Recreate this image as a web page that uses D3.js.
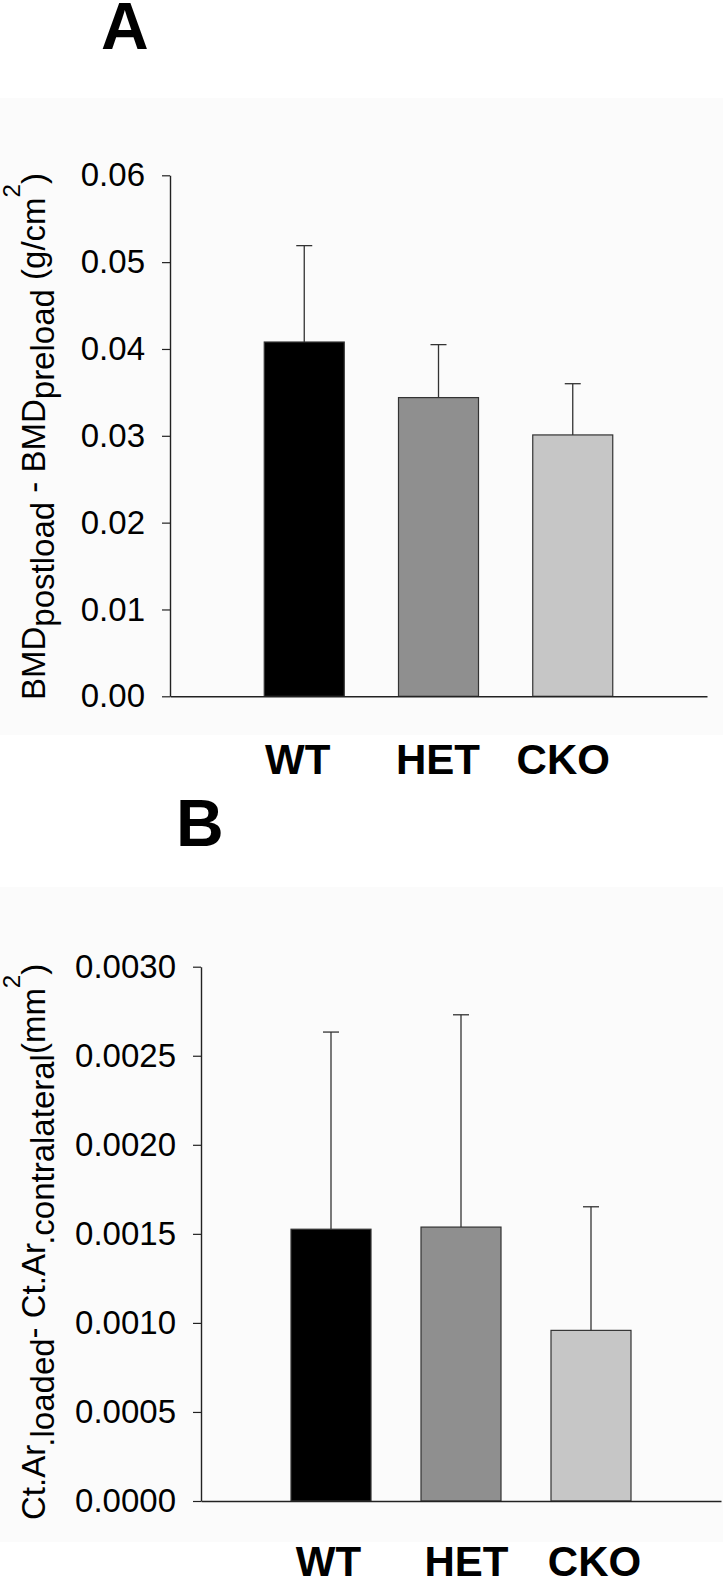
<!DOCTYPE html>
<html>
<head>
<meta charset="utf-8">
<script src="https://cdn.jsdelivr.net/npm/d3@7"></script>
<style>
  html, body { margin: 0; padding: 0; background: #ffffff; }
  svg { display: block; }
  text { font-family: "Liberation Sans", Arial, Helvetica, sans-serif; }
</style>
</head>
<body>
<svg id="chart" width="723" height="1581"></svg>
<script>
// ---------- data ----------
const groups = ["WT", "HET", "CKO"];
const barColors = ["#000000", "#8f8f8f", "#c6c6c6"];

const bmdMeans = [0.0408, 0.0344, 0.0301];
const bmdErrors = [0.0111, 0.0061, 0.0059];
const bmdTicks = [0, 0.01, 0.02, 0.03, 0.04, 0.05, 0.06];

const ctArMeans = [0.001526, 0.001538, 0.000958];
const ctArErrors = [0.001107, 0.001192, 0.000694];
const ctArTicks = [0, 0.0005, 0.0010, 0.0015, 0.0020, 0.0025, 0.0030];

const svg = d3.select("#chart");
const AXIS = "#222222";

function drawPanel(cfg) {
  const g = svg.append("g");
  // panel background
  g.append("rect")
    .attr("x", 0).attr("y", cfg.bgTop)
    .attr("width", 723).attr("height", cfg.bgBottom - cfg.bgTop)
    .attr("fill", "#fbfbfb");

  const x = d3.scaleLinear().domain([0, 4]).range([cfg.left, cfg.right]);
  const y = d3.scaleLinear().domain([0, cfg.ticks[cfg.ticks.length - 1]]).range([cfg.bottom, cfg.top]);
  const barW = 80;

  // bars
  g.selectAll("rect.bar").data(cfg.means).join("rect")
    .attr("class", "bar")
    .attr("x", (d, i) => x(i + 1) - barW / 2)
    .attr("y", d => y(d))
    .attr("width", barW)
    .attr("height", d => y(0) - y(d))
    .attr("fill", (d, i) => barColors[i])
    .attr("stroke", "#333")
    .attr("stroke-width", 1.2);

  // error bars (upper only)
  const eb = g.selectAll("g.err").data(cfg.means).join("g").attr("class", "err");
  eb.append("line")
    .attr("x1", (d, i) => x(i + 1)).attr("x2", (d, i) => x(i + 1))
    .attr("y1", d => y(d)).attr("y2", (d, i) => y(d + cfg.errors[i]))
    .attr("stroke", "#333").attr("stroke-width", 1.3);
  eb.append("line")
    .attr("x1", (d, i) => x(i + 1) - 8).attr("x2", (d, i) => x(i + 1) + 8)
    .attr("y1", (d, i) => y(d + cfg.errors[i])).attr("y2", (d, i) => y(d + cfg.errors[i]))
    .attr("stroke", "#333").attr("stroke-width", 1.3);

  // y axis
  const yAxis = d3.axisLeft(y).tickValues(cfg.ticks).tickFormat(d3.format(cfg.fmt))
    .tickSize(8).tickPadding(17).tickSizeOuter(0);
  const ya = g.append("g").attr("transform", `translate(${cfg.left},0)`).call(yAxis);
  ya.select(".domain").attr("stroke", AXIS).attr("stroke-width", 1.4);
  ya.selectAll(".tick line").attr("stroke", AXIS).attr("stroke-width", 1.2);
  ya.selectAll(".tick text")
    .attr("fill", "#000").attr("font-size", 33)
    .style("font-family", "'Liberation Sans', Arial, sans-serif");

  // x axis baseline and group labels
  const xAxis = d3.axisBottom(x).tickValues([1, 2, 3]).tickFormat((d) => groups[d - 1])
    .tickSize(0).tickSizeOuter(0).tickPadding(cfg.xLabelPad);
  const xa = g.append("g").attr("transform", `translate(0,${cfg.bottom})`).call(xAxis);
  xa.select(".domain").attr("stroke", AXIS).attr("stroke-width", 1.4);
  xa.selectAll(".tick text")
    .attr("fill", "#000").attr("font-size", 42).attr("font-weight", "bold")
    .attr("dx", (d, i) => cfg.labelShift[i])
    .style("font-family", "'Liberation Sans', Arial, sans-serif");

  // y axis title (rotated, with sub/superscripts)
  const t = g.append("text")
    .attr("transform", `translate(${cfg.titleX},${cfg.titleY}) rotate(-90)`)
    .attr("font-size", 33).attr("fill", "#000");
  cfg.title.forEach(part => {
    const ts = t.append("tspan").text(part.text);
    if (part.sub) ts.attr("dy", 9);
    if (part.sup) ts.attr("dy", -25).attr("font-size", 24);
    if (part.back) ts.attr("dy", part.back);
  });

  // panel letter
  g.append("text").attr("x", cfg.letterX).attr("y", cfg.letterY)
    .attr("font-size", 66).attr("font-weight", "bold").attr("fill", "#000")
    .text(cfg.letter);
}

drawPanel({
  letter: "A", letterX: 101, letterY: 49,
  bgTop: 98, bgBottom: 735,
  left: 170, right: 707, top: 175.3, bottom: 696.3,
  means: bmdMeans, errors: bmdErrors, ticks: bmdTicks, fmt: ".2f",
  xLabelPad: 48, labelShift: [-7, -1, -10],
  titleX: 45, titleY: 700,
  title: [
    { text: "BMD" },
    { text: "postload", sub: true },
    { text: " - BMD", back: -9 },
    { text: "preload", sub: true },
    { text: " (g/cm", back: -9 },
    { text: "2", sup: true },
    { text: ")", back: 25 }
  ]
});

drawPanel({
  letter: "B", letterX: 176, letterY: 846,
  bgTop: 887, bgBottom: 1542,
  left: 201, right: 721, top: 966.7, bottom: 1501,
  means: ctArMeans, errors: ctArErrors, ticks: ctArTicks, fmt: ".4f",
  xLabelPad: 45, labelShift: [-3, 5, 3],
  titleX: 45, titleY: 1520,
  title: [
    { text: "Ct.Ar" },
    { text: ".loaded", sub: true },
    { text: "- Ct.Ar", back: -9 },
    { text: ".contralateral", sub: true },
    { text: "(mm", back: -9 },
    { text: "2", sup: true },
    { text: ")", back: 25 }
  ]
});
</script>
</body>
</html>
